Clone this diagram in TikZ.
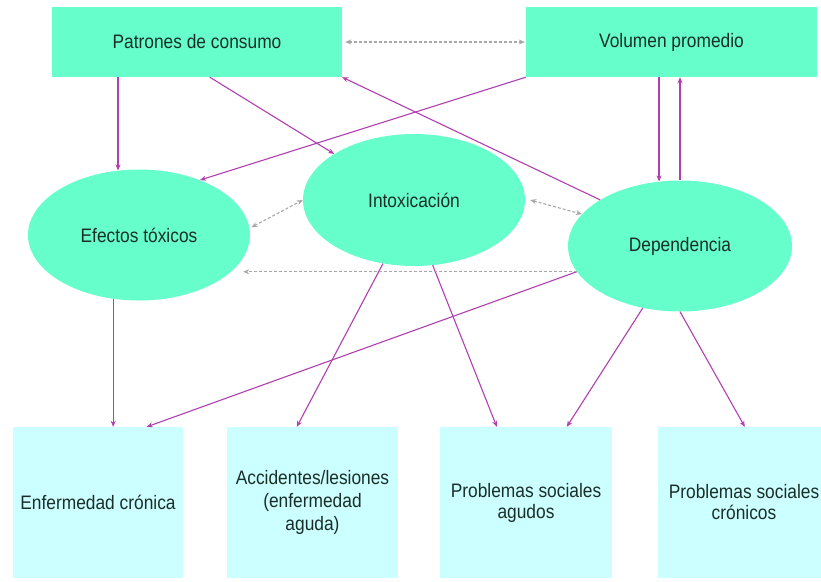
\documentclass[tikz,border=0pt]{standalone}
\usepackage{fontspec}
\setmainfont{Liberation Sans}[FakeStretch=0.89]
\usetikzlibrary{shapes.geometric,arrows.meta}
\definecolor{aqua}{HTML}{66FFCC}
\definecolor{pale}{HTML}{CCFFFF}
\definecolor{mag}{HTML}{B040B0}
\definecolor{dgray}{HTML}{A8A8A8}
\definecolor{ink}{HTML}{1A2E28}
\begin{document}
\begin{tikzpicture}[x=1pt,y=-1pt,
  font=\fontsize{19.5}{23}\selectfont, text=ink,
  topbox/.style={rectangle, fill=aqua, minimum width=290pt, minimum height=70pt, inner sep=0pt},
  oval/.style={ellipse, fill=aqua, minimum width=222pt, minimum height=131pt, inner sep=0pt},
  outbox/.style={rectangle, fill=pale, minimum width=171pt, minimum height=151pt, inner sep=0pt, align=center},
  link/.style={draw=mag, line width=1.1pt, -{Stealth[length=6pt,width=5pt]}},
  bilink/.style={draw=dgray, line width=1.1pt, dash pattern=on 3pt off 2pt, {Stealth[length=6pt,width=5pt]}-{Stealth[length=6pt,width=5pt]}},
  leftlink/.style={draw=dgray, line width=1.1pt, dash pattern=on 3pt off 2pt, -{Stealth[length=6pt,width=5pt]}},
  ]
\useasboundingbox (0,0) rectangle (821,581);
\fill[white] (0,0) rectangle (821,581);

\node[topbox] (pat) at (197,42) {Patrones de consumo};
\node[topbox, minimum width=291pt] (vol) at (671.5,42) {Volumen promedio};
\node[oval] (efe) at (139,235) {Efectos tóxicos};
\node[oval, minimum height=132pt] (int) at (414,200) {Intoxicación};
\node[oval, minimum width=224pt] (dep) at (680,246) {Dependencia};

\node[outbox, minimum width=170pt] (enf) at (98,502.5) {Enfermedad crónica};
\node[outbox] (acc) at (312.5,502.5) {Accidentes/lesiones\\(enfermedad\\aguda)};
\node[outbox, minimum width=172pt] (agu) at (526,502.5) {Problemas sociales\\[-2pt]agudos};
\node[outbox, minimum width=172pt] (cro) at (744,502.5) {Problemas sociales\\[-2pt]crónicos};

\draw[link] (pat.south -| efe.108) -- (efe.108);
\draw[link] ([xshift=158pt]pat.south west) -- (int.150);
\draw[link] (vol.south west) -- (efe.42);
\draw[link] (dep.150) -- (pat.south east);
\draw[link] (vol.south -| dep.108) -- (dep.108);
\draw[link] (dep.north) -- (dep.north |- vol.south);
\draw[link] (efe.248) -- (enf.north -| efe.248);
\draw[link] (dep.194) -- ([xshift=134pt]enf.north west);
\draw[link] (int.244) -- ([xshift=70pt]acc.north west);
\draw[link] (int.286) -- ([xshift=57pt]agu.north west);
\draw[link] (dep.239) -- ([xshift=127pt]agu.north west);
\draw[link] (dep.south) -- ([xshift=87pt]cro.north west);

\draw[bilink] ([xshift=3pt]pat.east) -- ([xshift=-1pt]vol.west);
\draw[bilink] ([xshift=2pt]efe.4) -- (int.180);
\draw[bilink] ([xshift=5pt]int.east) -- (dep.162);
\draw[leftlink] (dep.194) -- ([xshift=-7pt]dep.194 -| efe.east);
\end{tikzpicture}
\end{document}
